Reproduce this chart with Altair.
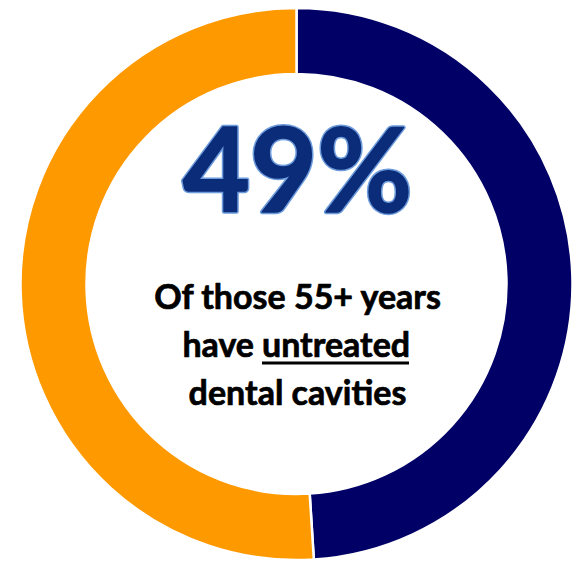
import altair as alt
import pandas as pd

categories = ["Untreated cavities", "Other"]
values = [49, 51]
orders = [0, 1]
colors = ["#000066", "#FF9900"]

headline = ["49%"]
line1 = ["Of those 55+ years"]
line2a = ["have"]
line2b = ["untreated"]
line3 = ["dental cavities"]

df = pd.DataFrame({"category": categories, "value": values, "order": orders})

FONT = "Lato"
CX, CY = 288.5, 276

arc = alt.Chart(df).mark_arc(
    outerRadius=276, innerRadius=210, stroke="white", strokeWidth=2.5
).encode(
    theta=alt.Theta("value:Q", stack=True),
    color=alt.Color("category:N", scale=alt.Scale(domain=categories, range=colors), legend=None),
    order=alt.Order("order:Q"),
    x=alt.value(CX),
    y=alt.value(CY),
)

def text_layer(lines, x, y, size, color="#000000", align="center", **kw):
    d = pd.DataFrame({"t": lines})
    return alt.Chart(d).mark_text(
        font=FONT, fontWeight="bold", fontSize=size, align=align, baseline="alphabetic",
        color=color, **kw
    ).encode(text="t:N", x=alt.value(x), y=alt.value(y))

head_glow = text_layer(headline, 289.5, 204, 116, color="#0B2C78",
                       stroke="#6D9BDB", strokeWidth=4.5, strokeJoin="round")
head = text_layer(headline, 289.5, 204, 116, color="#0B2C78",
                  stroke="#0B2C78", strokeWidth=1.5, strokeJoin="round")

TS = 34
black = dict(stroke="#000000", strokeWidth=0.7, strokeJoin="round")
t1 = text_layer(line1, 289.5, 301, TS, **black)
t2a = text_layer(line2a, 246, 349, TS, align="right", **black)
t2b = text_layer(line2b, 254, 349, TS, align="left", **black)
t3 = text_layer(line3, 289.5, 397, TS, **black)

underline = alt.Chart(pd.DataFrame({"u": [1]})).mark_rule(
    color="#000000", strokeWidth=3
).encode(x=alt.value(254), x2=alt.value(401), y=alt.value(355))

chart = alt.layer(arc, head_glow, head, t1, t2a, t2b, underline, t3).properties(
    width=567, height=553, padding=0, autosize="none"
).configure_view(stroke=None)

chart.save("out.html", embed_options={"renderer": "svg", "actions": False})
